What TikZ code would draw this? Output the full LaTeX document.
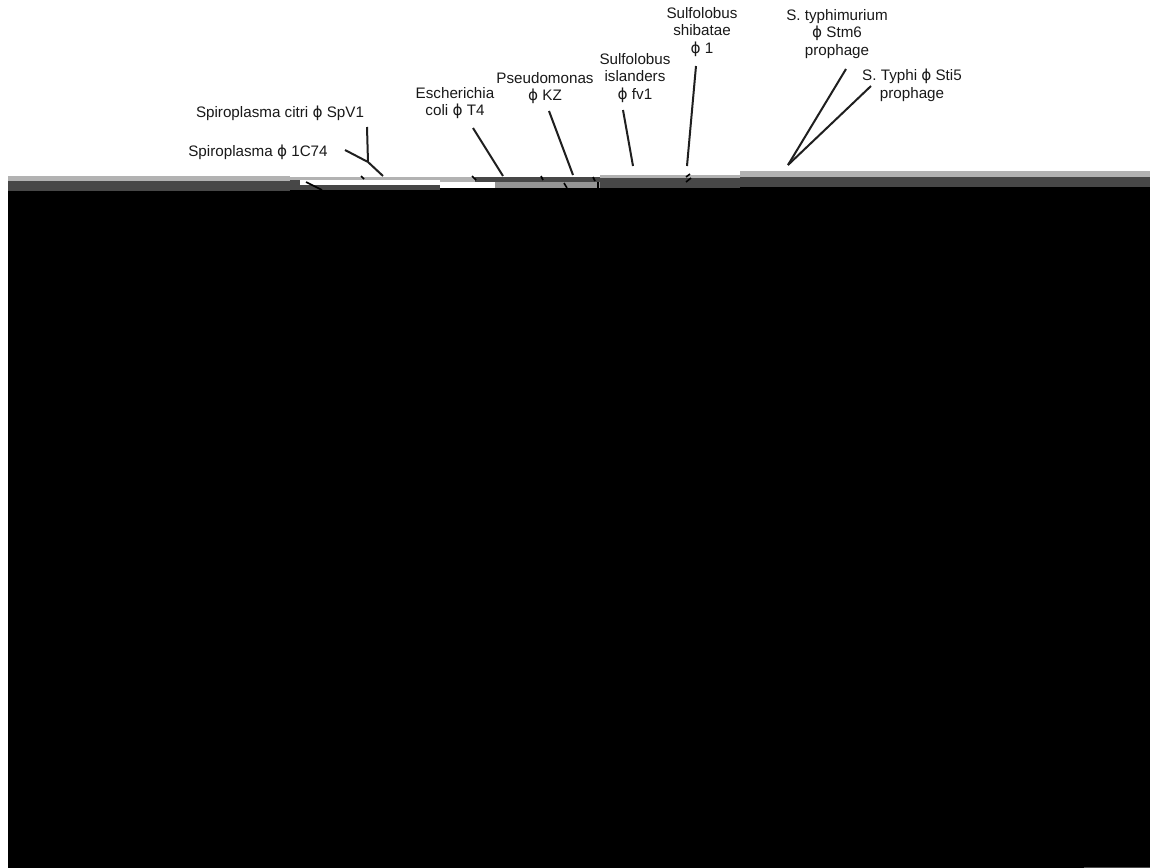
\documentclass[tikz,border=0pt]{standalone}
\usepackage{fontspec}
\setmainfont{Liberation Sans}
\newfontfamily\phifont{DejaVu Sans}
\newcommand{\ph}{{\phifont ϕ}}
\begin{document}
\begin{tikzpicture}[x=0.5pt,y=-0.5pt,
  lbl/.style={font=\fontsize{7.6}{8.9}\selectfont, align=center, inner sep=0pt, text=black!90},
  conn/.style={line width=1pt, draw=black!88},
  tick/.style={line width=0.8pt, draw=black},
  lightband/.style={fill=black!30},
  darkband/.style={fill=black!72},
  midband/.style={fill=black!42}]
\useasboundingbox (0,0) rectangle (1153,868);
% black field
\fill[black] (8,187) rectangle (1150,868);
% bands, left part
\fill[lightband] (8,176) rectangle (290,181);
\fill[darkband] (8,181) rectangle (290,191);
% middle part
\fill[lightband] (290,177) rectangle (440,180);
\fill[white] (290,180) rectangle (440,185);
\fill[darkband] (290,180) rectangle (300,185);
\fill[darkband] (290,185) rectangle (440,190);
\fill[black] (290,190) rectangle (440,191);
% part 440-600
\fill[lightband] (440,177) rectangle (475,182);
\fill[darkband] (475,177) rectangle (600,182);
\fill[white] (440,182) rectangle (495,188);
\fill[midband] (495,182) rectangle (600,188);
% part 600-740
\fill[lightband] (600,175) rectangle (740,178);
\fill[darkband] (600,178) rectangle (740,188);
% right part
\fill[lightband] (740,171) rectangle (1150,176.5);
\fill[darkband] (740,176.5) rectangle (1150,187);
% bottom line
\fill[black!70] (1084,866.5) rectangle (1150,868);
% small marks in the bands
\draw[tick] (306,182) -- (322,190);
\draw[tick] (472,176) -- (476,180);
\draw[tick] (541,176) -- (543,180);
\draw[tick] (593,177) -- (595,181);
\draw[tick] (598,182) -- (598,188);
\draw[tick] (564,183) -- (567,188);
\draw[tick] (686,177) -- (690,174);
\draw[tick] (686,182) -- (691,178);
\draw[tick] (361,176) -- (364,179);
% labels
\node[lbl] (t1) at (280,113) {Spiroplasma citri \ph{} SpV1};
\node[lbl] (t2) at (258,152) {Spiroplasma \ph{} 1C74};
\node[lbl] (t3) at (455,103) {Escherichia\\coli \ph{} T4};
\node[lbl] (t4) at (545,88) {Pseudomonas\\\ph{} KZ};
\node[lbl] (t5) at (635,78) {Sulfolobus\\islanders\\\ph{} fv1};
\node[lbl] (t6) at (702,32) {Sulfolobus\\shibatae\\\ph{} 1};
\node[lbl] (t7) at (837,34) {S. typhimurium\\\ph{} Stm6\\prophage};
\node[lbl] (t8) at (912,85) {S. Typhi \ph{} Sti5\\prophage};
% connector end points
\coordinate (a1) at (367,127);
\coordinate (j1) at (368,162);
\coordinate (a2) at (345,150);
\coordinate (e1) at (383,176);
\coordinate (a3) at (473,128);
\coordinate (e3) at (503,176);
\coordinate (a4) at (549,111);
\coordinate (e4) at (573,175);
\coordinate (a5) at (623,110);
\coordinate (e5) at (633,166);
\coordinate (a6) at (696,66);
\coordinate (e6) at (687,166);
\coordinate (a7) at (846,69);
\coordinate (a8) at (871,86);
\coordinate (e7) at (788,165);
% connectors
\draw[conn] (a1) -- (j1);
\draw[conn] (a2) -- (j1);
\draw[conn] (j1) -- (e1);
\draw[conn] (a3) -- (e3);
\draw[conn] (a4) -- (e4);
\draw[conn] (a5) -- (e5);
\draw[conn] (a6) -- (e6);
\draw[conn] (a7) -- (e7);
\draw[conn] (a8) -- (e7);
\end{tikzpicture}
\end{document}
